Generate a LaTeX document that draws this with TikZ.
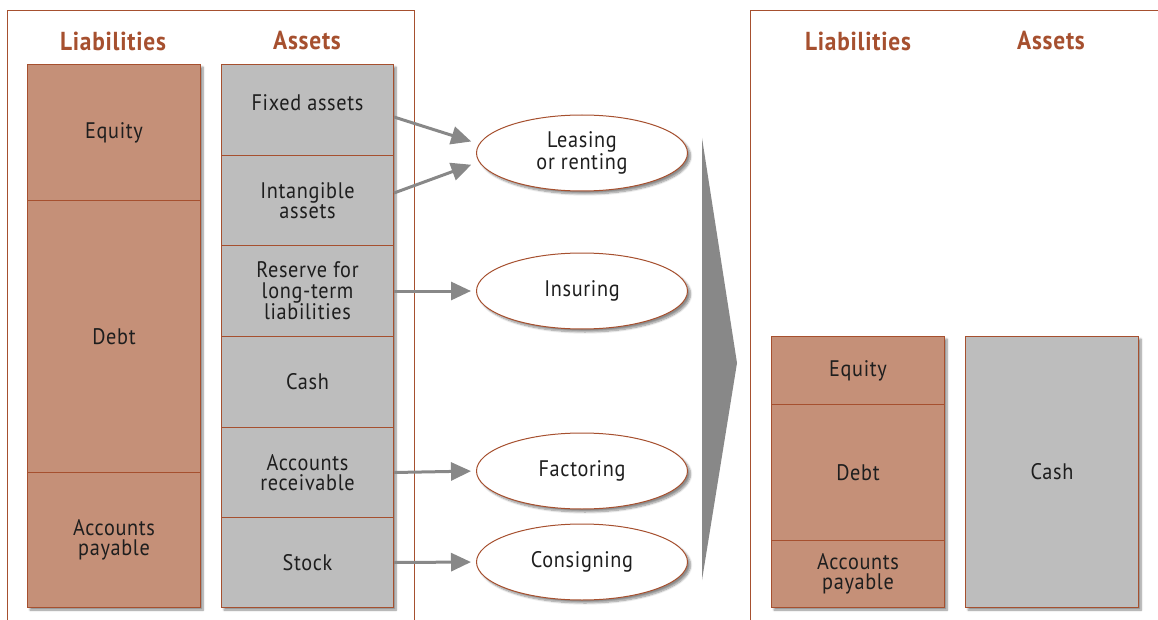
\documentclass[tikz,border=0pt]{standalone}
\usepackage{fontspec}
\setmainfont{PT Sans}[FakeStretch=0.9, LetterSpace=3]
\usetikzlibrary{shadows.blur,arrows.meta,shapes.geometric}
\definecolor{rust}{HTML}{A6502F}
\definecolor{clay}{HTML}{C59078}
\definecolor{stone}{HTML}{BDBDBD}
\definecolor{ink}{HTML}{1E1E1E}
\definecolor{flow}{HTML}{888888}
\tikzset{
  cell/.style={draw=rust, line width=1pt, text=ink, align=center, anchor=north west,
    inner sep=0pt, font=\fontsize{22.5}{20.5}\selectfont},
  liab/.style={cell, fill=clay},
  asset/.style={cell, fill=stone},
  colshadow/.style={fill=white, blur shadow={shadow xshift=3pt, shadow yshift=-3pt, shadow blur steps=8, shadow opacity=45}},
  head/.style={text=rust, font=\fontsize{26}{26}\selectfont\bfseries},
  option/.style={draw=rust, line width=1pt, fill=white, ellipse, minimum width=211pt, minimum height=76pt,
    text=ink, align=center, inner sep=0pt, font=\fontsize{22.5}{20.5}\selectfont,
    blur shadow={shadow xshift=3pt, shadow yshift=-3pt, shadow blur steps=8, shadow opacity=45}},
  link/.style={draw=flow, line width=3pt, shorten >=5pt, -{Triangle[length=20pt, width=18pt]}},
  frame/.style={draw=rust, line width=1pt}
}
\begin{document}
\begin{tikzpicture}[x=1pt, y=-1pt]
\useasboundingbox (0,0) rectangle (1158,620);
% frames
\draw[frame] (7,625) -- (7,11) -- (414,11) -- (414,625);
\draw[frame] (750,625) -- (750,11) -- (1165,11);
% headings
\node[head] (hl1) at (113,41) {Liabilities};
\node[head] (ha1) at (307,41) {Assets};
\node[head] (hl2) at (858,41) {Liabilities};
\node[head] (ha2) at (1051,41) {Assets};
% column shadows
\path[colshadow] (27,64) rectangle (200,607);
\path[colshadow] (221,64) rectangle (393,607);
\path[colshadow] (771,336) rectangle (944,607);
\path[colshadow] (965,336) rectangle (1138,607);
% left liabilities
\node[liab, minimum width=173pt, minimum height=136pt] (eq) at (27,64) {Equity};
\node[liab, minimum width=173pt, minimum height=272pt] (debt) at (27,200) {Debt};
\node[liab, minimum width=173pt, minimum height=135pt] (ap) at (27,472) {Accounts\\payable};
% left assets
\node[asset, minimum width=172pt, minimum height=91pt] (fa) at (221,64) {Fixed assets\\[-6pt]};
\node[asset, minimum width=172pt, minimum height=90pt] (ia) at (221,155) {Intangible\\assets};
\node[asset, minimum width=172pt, minimum height=91pt] (res) at (221,245) {Reserve for\\long-term\\liabilities};
\node[asset, minimum width=172pt, minimum height=91pt] (cash) at (221,336) {Cash};
\node[asset, minimum width=172pt, minimum height=90pt] (ar) at (221,427) {Accounts\\receivable};
\node[asset, minimum width=172pt, minimum height=90pt] (st) at (221,517) {Stock};
% options
\node[option] (lease) at (582,153) {Leasing\\or renting};
\node[option] (ins) at (582,291) {Insuring};
\node[option] (fac) at (582,471) {Factoring};
\node[option] (con) at (582,562) {Consigning};
% connectors
\draw[link] (fa.east |- 0,117) -- (lease.west |- 0,143);
\draw[link] (ia.east |- 0,193) -- (lease.west |- 0,163);
\draw[link] (res.east) -- (ins.west);
\draw[link] (ar.east) -- (fac.west);
\draw[link] (st.east) -- (con.west);
% transition arrow
\fill[flow] (702,138) -- (737,363) -- (702,580) -- cycle;
% right liabilities
\node[liab, minimum width=173pt, minimum height=68pt] (eq2) at (771,336) {Equity};
\node[liab, minimum width=173pt, minimum height=136pt] (debt2) at (771,404) {Debt};
\node[liab, minimum width=173pt, minimum height=67pt] (ap2) at (771,540) {Accounts\\payable};
% right assets
\node[asset, minimum width=173pt, minimum height=271pt] (cash2) at (965,336) {Cash};
\end{tikzpicture}
\end{document}
